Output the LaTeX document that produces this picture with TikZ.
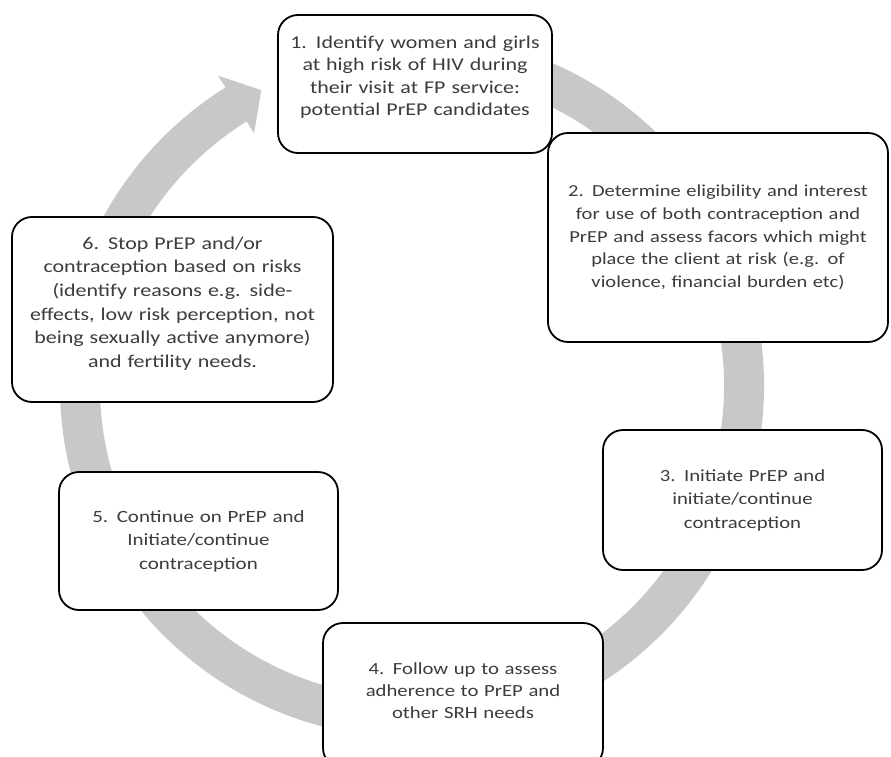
\documentclass[tikz,border=0pt]{standalone}
\usepackage{fontspec}
\setmainfont[FakeStretch=1.22]{Carlito}
\definecolor{ringgray}{RGB}{200,200,200}
\definecolor{txtgray}{RGB}{60,60,60}
\begin{document}
\begin{tikzpicture}[x=1pt,y=-1pt,
  stepbox/.style={draw=black, line width=1.8pt, fill=white, rounded corners=20pt,
    align=center, text=txtgray, inner sep=0pt,
    font=\fontsize{18}{22.5}\selectfont}]
\useasboundingbox (0,0) rectangle (891,757);
\clip (0,0) rectangle (891,757);
% circular arrow
\begin{scope}[shift={(412,386)}]
\fill[ringgray] (-80:352) arc[start angle=-80, end angle=238, radius=352]
  -- (238:366) -- (243:332) -- (238:298) -- (238:312)
  arc[start angle=238, end angle=-80, radius=312] -- cycle;
\end{scope}
% boxes
\node[stepbox, minimum width=274pt, minimum height=138pt, text width=264pt] (s1) at (415,84)
  {1. Identify women and girls\\ at high risk of HIV during\\ their visit at FP service:\\ potential PrEP candidates\par\kern14pt};
\node[stepbox, minimum width=340pt, minimum height=209pt, text width=332pt,
  font=\fontsize{16.8}{22.7}\selectfont] (s2) at (718,237.5)
  {2. Determine eligibility and interest\\ for use of both contraception and\\ PrEP and assess facors which might\\ place the client at risk (e.g. of\\ violence, financial burden etc)};
\node[stepbox, minimum width=279pt, minimum height=140pt, text width=269pt,
  font=\fontsize{17}{23.5}\selectfont] (s3) at (742.5,500)
  {3. Initiate PrEP and\\ initiate/continue\\ contraception};
\node[stepbox, minimum width=280pt, minimum height=145pt, text width=270pt,
  font=\fontsize{17}{21.8}\selectfont] (s4) at (463,695.5)
  {4. Follow up to assess\\ adherence to PrEP and\\ other SRH needs\par\kern10pt};
\node[stepbox, minimum width=279pt, minimum height=138pt, text width=269pt,
  font=\fontsize{17.2}{23.5}\selectfont] (s5) at (198.5,541)
  {5. Continue on PrEP and\\ Initiate/continue\\ contraception};
\node[stepbox, minimum width=321pt, minimum height=185pt, text width=311pt,
  font=\fontsize{18}{23.7}\selectfont] (s6) at (172.5,309.5)
  {6. Stop PrEP and/or\\ contraception based on risks\\ (identify reasons e.g. side-\\ effects, low risk perception, not\\ being sexually active anymore)\\ and fertility needs.\par\kern12pt};
\end{tikzpicture}
\end{document}
